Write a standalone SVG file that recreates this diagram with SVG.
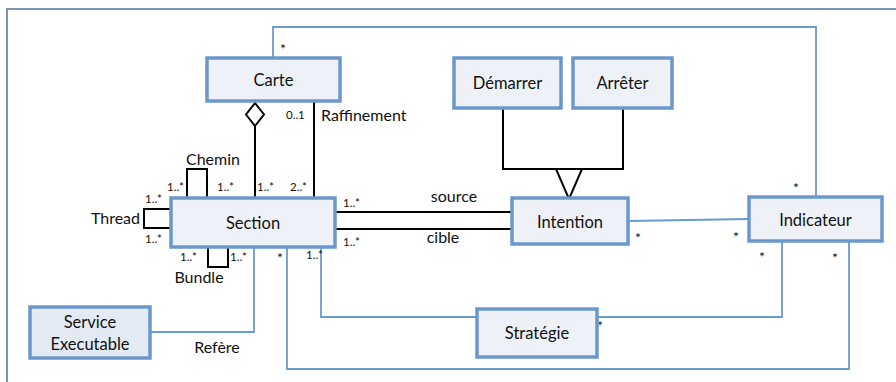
<svg xmlns="http://www.w3.org/2000/svg" width="896" height="382" viewBox="0 0 896 382">
<style>
.node rect{fill:#eef2f8;stroke:#6a98cc;stroke-width:3.5}
.lbl{font-family:Lato,"Liberation Sans",sans-serif;font-size:16.5px;fill:#111;text-anchor:middle}
.txt{font-family:Lato,"Liberation Sans",sans-serif;font-size:16px;fill:#111}
.m{font-family:Lato,"Liberation Sans",sans-serif;font-size:11.5px;fill:#111}
.s{font-family:Lato,"Liberation Sans",sans-serif;font-size:14px;fill:#111}
.blk{fill:none;stroke:#000;stroke-width:2}
.blu{fill:none;stroke:#6a9bd0;stroke-width:1.8}
</style>
<rect x="7" y="9" width="900" height="390" fill="#fff" stroke="#52719c" stroke-width="1.5"/>
<g id="connectors">
<path class="blu" d="M273,58 V27 H816 V197"/>
<path class="blu" d="M628,221 L749,219"/>
<path class="blu" d="M254,247 V332 H150"/>
<path class="blu" d="M321,247 V317 H477"/>
<path class="blu" d="M597,317 H782 V241"/>
<path class="blu" d="M287,247 V369 H849 V241"/>
<path class="blk" d="M503,108 V169 H623 V108"/>
<polygon points="556,169 582,169 569,199" fill="#fff" stroke="#000" stroke-width="2"/>
<path class="blk" d="M255,126 V198"/>
<polygon points="255,103 264,114.5 255,126 246,114.5" fill="#fff" stroke="#000" stroke-width="2"/>
<path class="blk" d="M314,101 V198"/>
<path class="blk" d="M335,212 H512 M335,229 H512"/>
<path class="blk" d="M187,198 V169 H207 V198"/>
<path class="blk" d="M171,209 H144 V228 H171"/>
<path class="blk" d="M208,247 V267 H228 V247"/>
<text class="s" x="280" y="54">*</text>
<text class="s" x="793" y="193">*</text>
<text class="s" x="635" y="243">*</text>
<text class="s" x="733" y="242">*</text>
<text class="s" x="759" y="262">*</text>
<text class="s" x="832" y="263">*</text>
<text class="s" x="597" y="331">*</text>
<text class="s" x="277" y="263">*</text>
<text class="m" x="306" y="259">1..*</text>
<text class="m" x="286" y="119">0..1</text>
<text class="txt" x="321" y="121">Raffinement</text>
<text class="m" x="290" y="191">2..*</text>
<text class="m" x="257" y="191">1..*</text>
<text class="m" x="217" y="191">1..*</text>
<text class="m" x="167" y="191">1..*</text>
<text class="txt" x="213" y="165" text-anchor="middle">Chemin</text>
<text class="m" x="145" y="203">1..*</text>
<text class="m" x="145" y="243">1..*</text>
<text class="txt" x="140" y="224" text-anchor="end">Thread</text>
<text class="m" x="180" y="261">1..*</text>
<text class="m" x="230" y="261">1..*</text>
<text class="txt" x="199" y="283" text-anchor="middle">Bundle</text>
<text class="txt" x="217" y="353" text-anchor="middle">Refère</text>
<text class="m" x="343" y="207">1..*</text>
<text class="m" x="343" y="246">1..*</text>
<text class="txt" x="454" y="202" text-anchor="middle">source</text>
<text class="txt" x="443" y="243" text-anchor="middle">cible</text>
</g>
<g id="carte" class="node"><rect x="207" y="58" width="133" height="43"/><text class="lbl" x="273.5" y="85.5">Carte</text></g>
<g id="demarrer" class="node"><rect x="454" y="58" width="107" height="50"/><text class="lbl" x="507.5" y="89">Démarrer</text></g>
<g id="arreter" class="node"><rect x="573" y="58" width="99" height="50"/><text class="lbl" x="622.5" y="89">Arrêter</text></g>
<g id="section" class="node"><rect x="171" y="198" width="164" height="49"/><text class="lbl" x="253" y="229">Section</text></g>
<g id="intention" class="node"><rect x="512" y="198" width="116" height="46"/><text class="lbl" x="570" y="228">Intention</text></g>
<g id="indicateur" class="node"><rect x="749" y="197" width="133" height="44"/><text class="lbl" x="815.5" y="226">Indicateur</text></g>
<g id="strategie" class="node"><rect x="477" y="309" width="120" height="48"/><text class="lbl" x="537" y="339">Stratégie</text></g>
<g id="service" class="node"><rect x="30" y="307" width="120" height="51" style="fill:#e3eaf4"/><text class="lbl" x="90" y="328">Service</text><text class="lbl" x="90" y="350">Executable</text></g>
</svg>
